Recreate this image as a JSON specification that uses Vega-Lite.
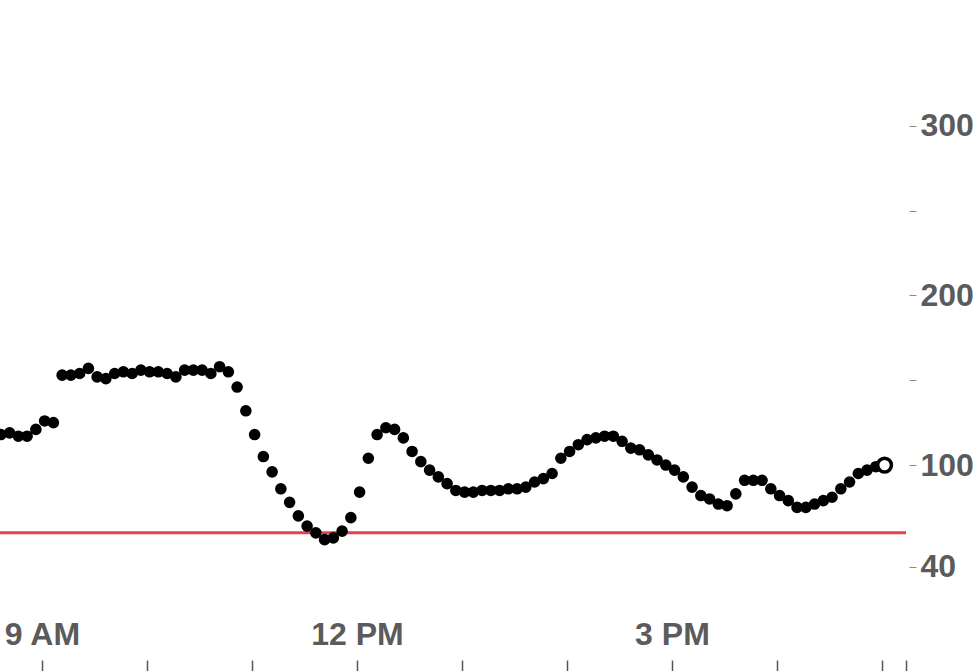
{
  "$schema": "https://vega.github.io/schema/vega-lite/v6.json",
  "width": 906,
  "height": 660,
  "autosize": {"type": "none"},
  "padding": {"left": 0, "top": 0, "right": 73, "bottom": 11},
  "background": "white",
  "config": {"view": {"stroke": null}},
  "datasets": {
    "readings": [
      {"t": "2024-01-01T08:36:30", "bg": 118},
      {"t": "2024-01-01T08:41:30", "bg": 119},
      {"t": "2024-01-01T08:46:30", "bg": 117},
      {"t": "2024-01-01T08:51:30", "bg": 117},
      {"t": "2024-01-01T08:56:30", "bg": 121},
      {"t": "2024-01-01T09:01:30", "bg": 126},
      {"t": "2024-01-01T09:06:30", "bg": 125},
      {"t": "2024-01-01T09:11:30", "bg": 153},
      {"t": "2024-01-01T09:16:30", "bg": 153},
      {"t": "2024-01-01T09:21:30", "bg": 154},
      {"t": "2024-01-01T09:26:30", "bg": 157},
      {"t": "2024-01-01T09:31:30", "bg": 152},
      {"t": "2024-01-01T09:36:30", "bg": 151},
      {"t": "2024-01-01T09:41:30", "bg": 154},
      {"t": "2024-01-01T09:46:30", "bg": 155},
      {"t": "2024-01-01T09:51:30", "bg": 154},
      {"t": "2024-01-01T09:56:30", "bg": 156},
      {"t": "2024-01-01T10:01:30", "bg": 155},
      {"t": "2024-01-01T10:06:30", "bg": 155},
      {"t": "2024-01-01T10:11:30", "bg": 154},
      {"t": "2024-01-01T10:16:30", "bg": 152},
      {"t": "2024-01-01T10:21:30", "bg": 156},
      {"t": "2024-01-01T10:26:30", "bg": 156},
      {"t": "2024-01-01T10:31:30", "bg": 156},
      {"t": "2024-01-01T10:36:30", "bg": 154},
      {"t": "2024-01-01T10:41:30", "bg": 158},
      {"t": "2024-01-01T10:46:30", "bg": 155},
      {"t": "2024-01-01T10:51:30", "bg": 146},
      {"t": "2024-01-01T10:56:30", "bg": 132},
      {"t": "2024-01-01T11:01:30", "bg": 118},
      {"t": "2024-01-01T11:06:30", "bg": 105},
      {"t": "2024-01-01T11:11:30", "bg": 96},
      {"t": "2024-01-01T11:16:30", "bg": 86},
      {"t": "2024-01-01T11:21:30", "bg": 78},
      {"t": "2024-01-01T11:26:30", "bg": 70},
      {"t": "2024-01-01T11:31:30", "bg": 64},
      {"t": "2024-01-01T11:36:30", "bg": 60},
      {"t": "2024-01-01T11:41:30", "bg": 56},
      {"t": "2024-01-01T11:46:30", "bg": 57},
      {"t": "2024-01-01T11:51:30", "bg": 61},
      {"t": "2024-01-01T11:56:30", "bg": 69},
      {"t": "2024-01-01T12:01:30", "bg": 84},
      {"t": "2024-01-01T12:06:30", "bg": 104},
      {"t": "2024-01-01T12:11:30", "bg": 118},
      {"t": "2024-01-01T12:16:30", "bg": 122},
      {"t": "2024-01-01T12:21:30", "bg": 121},
      {"t": "2024-01-01T12:26:30", "bg": 116},
      {"t": "2024-01-01T12:31:30", "bg": 108},
      {"t": "2024-01-01T12:36:30", "bg": 102},
      {"t": "2024-01-01T12:41:30", "bg": 97},
      {"t": "2024-01-01T12:46:30", "bg": 93},
      {"t": "2024-01-01T12:51:30", "bg": 89},
      {"t": "2024-01-01T12:56:30", "bg": 85},
      {"t": "2024-01-01T13:01:30", "bg": 84},
      {"t": "2024-01-01T13:06:30", "bg": 84},
      {"t": "2024-01-01T13:11:30", "bg": 85},
      {"t": "2024-01-01T13:16:30", "bg": 85},
      {"t": "2024-01-01T13:21:30", "bg": 85},
      {"t": "2024-01-01T13:26:30", "bg": 86},
      {"t": "2024-01-01T13:31:30", "bg": 86},
      {"t": "2024-01-01T13:36:30", "bg": 87},
      {"t": "2024-01-01T13:41:30", "bg": 90},
      {"t": "2024-01-01T13:46:30", "bg": 92},
      {"t": "2024-01-01T13:51:30", "bg": 95},
      {"t": "2024-01-01T13:56:30", "bg": 104},
      {"t": "2024-01-01T14:01:30", "bg": 108},
      {"t": "2024-01-01T14:06:30", "bg": 112},
      {"t": "2024-01-01T14:11:30", "bg": 115},
      {"t": "2024-01-01T14:16:30", "bg": 116},
      {"t": "2024-01-01T14:21:30", "bg": 117},
      {"t": "2024-01-01T14:26:30", "bg": 117},
      {"t": "2024-01-01T14:31:30", "bg": 114},
      {"t": "2024-01-01T14:36:30", "bg": 110},
      {"t": "2024-01-01T14:41:30", "bg": 109},
      {"t": "2024-01-01T14:46:30", "bg": 106},
      {"t": "2024-01-01T14:51:30", "bg": 103},
      {"t": "2024-01-01T14:56:30", "bg": 100},
      {"t": "2024-01-01T15:01:30", "bg": 97},
      {"t": "2024-01-01T15:06:30", "bg": 93},
      {"t": "2024-01-01T15:11:30", "bg": 87},
      {"t": "2024-01-01T15:16:30", "bg": 82},
      {"t": "2024-01-01T15:21:30", "bg": 80},
      {"t": "2024-01-01T15:26:30", "bg": 77},
      {"t": "2024-01-01T15:31:30", "bg": 76},
      {"t": "2024-01-01T15:36:30", "bg": 83},
      {"t": "2024-01-01T15:41:30", "bg": 91},
      {"t": "2024-01-01T15:46:30", "bg": 91},
      {"t": "2024-01-01T15:51:30", "bg": 91},
      {"t": "2024-01-01T15:56:30", "bg": 86},
      {"t": "2024-01-01T16:01:30", "bg": 82},
      {"t": "2024-01-01T16:06:30", "bg": 79},
      {"t": "2024-01-01T16:11:30", "bg": 75},
      {"t": "2024-01-01T16:16:30", "bg": 75},
      {"t": "2024-01-01T16:21:30", "bg": 77},
      {"t": "2024-01-01T16:26:30", "bg": 79},
      {"t": "2024-01-01T16:31:30", "bg": 81},
      {"t": "2024-01-01T16:36:30", "bg": 86},
      {"t": "2024-01-01T16:41:30", "bg": 90},
      {"t": "2024-01-01T16:46:30", "bg": 95},
      {"t": "2024-01-01T16:51:30", "bg": 97},
      {"t": "2024-01-01T16:56:30", "bg": 99}
    ],
    "latest": [
      {"t": "2024-01-01T17:01:30", "bg": 100}
    ],
    "threshold": [
      {"low": 60}
    ]
  },
  "layer": [
    {
      "data": {"name": "threshold"},
      "mark": {"type": "rule", "color": "#e8414f", "strokeWidth": 3},
      "encoding": {
        "y": {"field": "low", "type": "quantitative"}
      }
    },
    {
      "data": {"name": "readings"},
      "mark": {"type": "point", "filled": true, "shape": "circle", "size": 135, "color": "black", "opacity": 1, "clip": true},
      "encoding": {
        "x": {
          "field": "t",
          "type": "temporal",
          "scale": {
            "domain": [
              {"year": 2024, "month": 1, "date": 1, "hours": 8, "minutes": 36, "seconds": 0},
              {"year": 2024, "month": 1, "date": 1, "hours": 17, "minutes": 13, "seconds": 45}
            ],
            "nice": false
          },
          "axis": {
            "title": null,
            "orient": "bottom",
            "domain": false,
            "grid": false,
            "values": [
              {"year": 2024, "month": 1, "date": 1, "hours": 9},
              {"year": 2024, "month": 1, "date": 1, "hours": 10},
              {"year": 2024, "month": 1, "date": 1, "hours": 11},
              {"year": 2024, "month": 1, "date": 1, "hours": 12},
              {"year": 2024, "month": 1, "date": 1, "hours": 13},
              {"year": 2024, "month": 1, "date": 1, "hours": 14},
              {"year": 2024, "month": 1, "date": 1, "hours": 15},
              {"year": 2024, "month": 1, "date": 1, "hours": 16},
              {"year": 2024, "month": 1, "date": 1, "hours": 17},
              {"year": 2024, "month": 1, "date": 1, "hours": 17, "minutes": 13, "seconds": 45}
            ],
            "labelExpr": "minutes(datum.value) === 0 && hours(datum.value) % 3 === 0 ? timeFormat(datum.value, '%-I %p') : ''",
            "tickSize": 11,
            "tickWidth": 1.5,
            "tickColor": "#555555",
            "labelPadding": -37,
            "labelBaseline": "middle",
            "labelFont": "Liberation Sans",
            "labelFontWeight": "bold",
            "labelFontSize": 32,
            "labelColor": "#5b5b5b",
            "labelFlush": false,
            "labelOverlap": false,
            "labelBound": false
          }
        },
        "y": {
          "field": "bg",
          "type": "quantitative",
          "scale": {"domain": [-15, 374.3], "nice": false, "zero": false},
          "axis": {
            "title": null,
            "orient": "right",
            "domain": false,
            "grid": false,
            "values": [40, 100, 150, 200, 250, 300],
            "labelExpr": "datum.value === 150 || datum.value === 250 ? '' : datum.label",
            "offset": 3,
            "tickSize": 7,
            "tickWidth": 1,
            "tickColor": "#888888",
            "labelPadding": 4,
            "labelFont": "Liberation Sans",
            "labelFontWeight": "bold",
            "labelFontSize": 32,
            "labelColor": "#5b5b5b",
            "labelFlush": false,
            "labelOverlap": false,
            "labelBound": false
          }
        }
      }
    },
    {
      "data": {"name": "latest"},
      "mark": {"type": "point", "filled": false, "shape": "circle", "size": 190, "stroke": "black", "strokeWidth": 3.5, "fill": "white", "fillOpacity": 1, "opacity": 1},
      "encoding": {
        "x": {"field": "t", "type": "temporal"},
        "y": {"field": "bg", "type": "quantitative"}
      }
    }
  ]
}
